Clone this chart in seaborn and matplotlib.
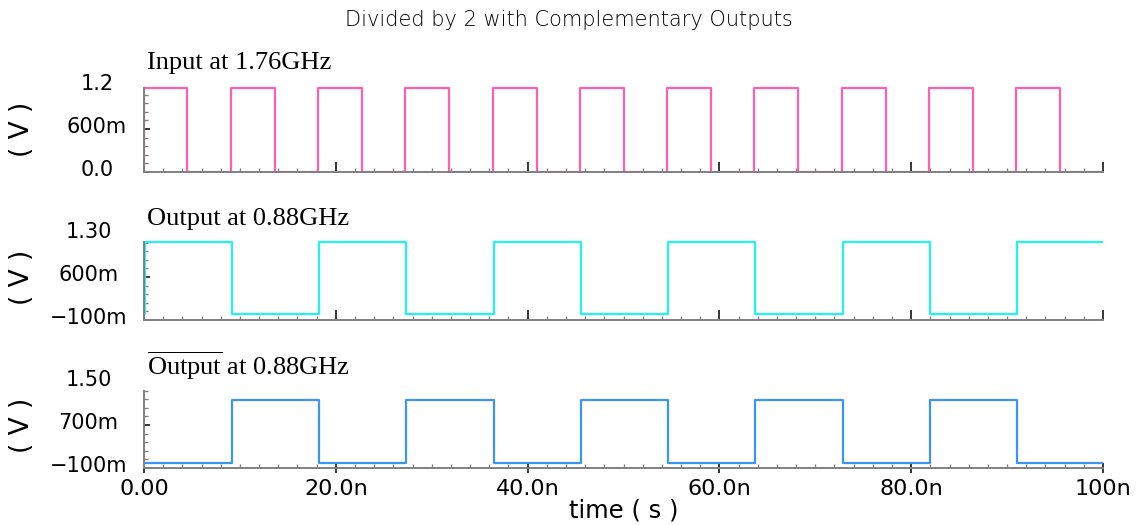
import numpy as np
import pandas as pd
import matplotlib
matplotlib.use("Agg")
import matplotlib.pyplot as plt
from matplotlib.ticker import FixedLocator
from matplotlib.transforms import ScaledTranslation
import seaborn as sns

# ---------------- data ----------------
title = "Divided by 2 with Complementary Outputs"
panel_titles = ["Input at 1.76GHz", "Output at 0.88GHz", r"$\overline{\mathrm{Output}}$ at 0.88GHz"]
t_end_ns = 100.0

input_rise_ns = [0.0, 9.07, 18.14, 27.2, 36.4, 45.5, 54.5, 63.6, 72.8, 81.9, 90.9]
input_fall_ns = [4.48, 13.66, 22.7, 31.8, 41.0, 50.1, 59.1, 68.2, 77.4, 86.4, 95.5]
input_high, input_low = 1.17, 0.0

out_rise_ns = [0.15, 18.25, 36.5, 54.6, 72.9, 91.0]
out_fall_ns = [9.2, 27.3, 45.6, 63.7, 82.0]
out_high, out_low = 1.17, 0.0

outb_rise_ns = [9.2, 27.3, 45.6, 63.7, 82.0]
outb_fall_ns = [18.25, 36.5, 54.6, 72.9, 91.0]
outb_high, outb_low = 1.165, 0.0

ytick_values = [[0.0, 0.6, 1.2], [-0.1, 0.6, 1.3], [-0.1, 0.7, 1.5]]
ytick_labels = [["0.0", "600m", "1.2"],
                ["\u2212100m", "600m", "1.30"],
                ["\u2212100m", "700m", "1.50"]]
xtick_values = [0, 20, 40, 60, 80, 100]
xtick_labels = ["0.00", "20.0n", "40.0n", "60.0n", "80.0n", "100n"]
xlabel = "time ( s )"
ylabel = "( V )"

colors = ["#FF5FAF", "#22F2F2", "#3A96F2"]

# ---------------- helpers ----------------
def step_wave(rises, falls, hi, lo, t_end):
    events = sorted([(t, hi) for t in rises] + [(t, lo) for t in falls])
    xs, ys = [0.0], [lo]
    cur = lo
    for t, lvl in events:
        xs.append(t); ys.append(cur)
        xs.append(t); ys.append(lvl)
        cur = lvl
    xs.append(t_end); ys.append(cur)
    return pd.DataFrame({"t": xs, "v": ys})

waves = [step_wave(input_rise_ns, input_fall_ns, input_high, input_low, t_end_ns),
         step_wave(out_rise_ns, out_fall_ns, out_high, out_low, t_end_ns),
         step_wave(outb_rise_ns, outb_fall_ns, outb_high, outb_low, t_end_ns)]

# ---------------- style ----------------
sns.set_style("white")
plt.rcParams["font.family"] = ["DejaVu Sans"]
plt.rcParams["text.color"] = "black"
plt.rcParams["axes.labelcolor"] = "black"
plt.rcParams["xtick.labelcolor"] = "black"
plt.rcParams["ytick.labelcolor"] = "black"
plt.rcParams["mathtext.fontset"] = "custom"
plt.rcParams["mathtext.rm"] = "Liberation Serif"
plt.rcParams["mathtext.it"] = "Liberation Serif:italic"

W, H = 1138, 525
fig = plt.figure(figsize=(W / 100, H / 100), dpi=100)

left_px, right_px = 144, 1103
bottoms_px = [172, 320, 468]
height_px = 86
ylims = [(0.0, 1.2), (-0.1, 1.3), (-0.1, 1.5)]
spine_tops = [1.17, 1.17, 1.34]
minor_steps = [0.12, 0.14, 0.16]
label_pads = [34, 40, 40]
title_offsets = [17, 9, 7]
gray = "#808080"

axes = []
for i in range(3):
    ax = fig.add_axes([left_px / W, (H - bottoms_px[i]) / H,
                       (right_px - left_px) / W, height_px / H])
    axes.append(ax)
    sns.lineplot(data=waves[i], x="t", y="v", sort=False, estimator=None,
                 color=colors[i], linewidth=1.6, ax=ax, legend=False)
    ax.set_xlim(0, t_end_ns)
    ax.set_ylim(*ylims[i])
    for s in ["top", "right"]:
        ax.spines[s].set_visible(False)
    for s in ["left", "bottom"]:
        ax.spines[s].set_color(gray)
        ax.spines[s].set_linewidth(1.4)
    ax.spines["left"].set_bounds(ylims[i][0], spine_tops[i])

    ax.set_xticks(xtick_values)
    ax.xaxis.set_minor_locator(FixedLocator(np.arange(2, 100, 2)))
    y0 = ylims[i][0]
    ax.yaxis.set_minor_locator(FixedLocator(
        np.arange(y0 + minor_steps[i], spine_tops[i] + 0.01, minor_steps[i])))
    ax.set_yticks(ytick_values[i])
    ax.set_yticklabels(ytick_labels[i], fontsize=15, color="black")

    ax.tick_params(axis="x", which="both", bottom=True, top=False)
    ax.tick_params(axis="y", which="both", left=True, right=False)
    ax.tick_params(axis="x", which="major", direction="inout" if i == 2 else "in",
                   length=7.5, width=1.1, color="black")
    ax.tick_params(axis="x", which="minor", direction="in", length=3,
                   width=1.0, color=gray)
    ax.tick_params(axis="y", which="major", direction="in", length=4.5,
                   width=1.1, color="black", pad=label_pads[i])
    ax.tick_params(axis="y", which="minor", direction="in", length=3,
                   width=1.0, color=gray)

    if i == 2:
        ax.set_xticklabels(xtick_labels, fontsize=16, color="black")
        ax.tick_params(axis="x", which="major", pad=4)
        ax.set_xlabel(xlabel, fontsize=17.5, color="black")
        ax.xaxis.set_label_coords(0.5, -0.49)
        ax.xaxis.label.set_va("center")
    else:
        ax.set_xticklabels([])
        ax.set_xlabel("")

    ax.set_ylabel(ylabel, fontsize=19, color="black")
    ax.yaxis.set_label_coords(-(left_px - 22) / (right_px - left_px), 0.5)
    ax.yaxis.label.set_va("center")

    ticks = ax.yaxis.get_major_ticks()
    ticks[-1].tick1line.set_visible(False)
    for tk in ticks:
        tk.label1.set_horizontalalignment("center")
        tk.label1.set_transform(tk.label1.get_transform()
                                + ScaledTranslation(0, 4 / 100, fig.dpi_scale_trans))

    ax.annotate(panel_titles[i], xy=(0, 1), xycoords="axes fraction",
                xytext=(3, title_offsets[i]), textcoords="offset pixels",
                ha="left", va="baseline", fontsize=19,
                family="Liberation Serif", color="black")

fig.text(0.5, 1 - 20 / H, title, ha="center", va="center", fontsize=15,
         fontweight="light", color="black")

fig.savefig("out.png", dpi=100, facecolor="white")
